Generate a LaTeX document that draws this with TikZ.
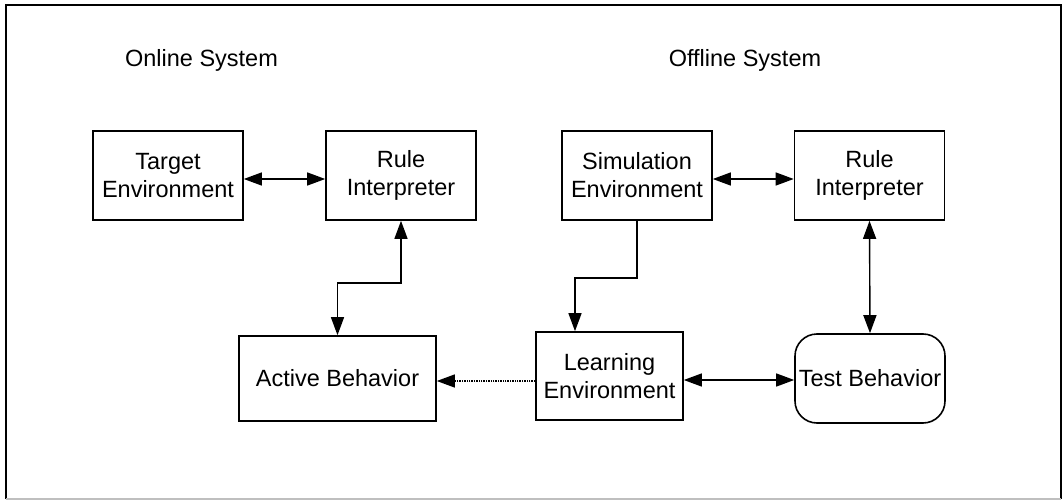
\documentclass[tikz,border=0pt]{standalone}
\usepackage{fontspec}
\setmainfont{Liberation Sans}
\usetikzlibrary{arrows.meta}
\begin{document}
\begin{tikzpicture}[x=1pt,y=-1pt,
  box/.style={draw, line width=1.6pt, minimum width=150pt, minimum height=89pt, inner sep=0pt, align=center, font=\fontsize{23.5}{28}\selectfont},
  title/.style={font=\fontsize{23.5}{28}\selectfont},
  tip/.style={},
  conn/.style={line width=1.4pt, {Triangle[length=18pt,width=13pt]}-{Triangle[length=18pt,width=13pt]}},
  oneway/.style={line width=1.4pt, -{Triangle[length=18pt,width=13pt]}},
  dots/.style={line width=1.4pt, densely dotted, -{Triangle[length=18pt,width=13pt]}}]
\useasboundingbox (0,0) rectangle (1063,500);
% frame
\draw[line width=2pt] (6,499) -- (6,5) -- (1061,5) -- (1061,499);
\draw[line width=2pt, black!25] (6,499) -- (1061,499);
% titles
\node[title] (online) at (201.5,60) {Online System};
\node[title] (offline) at (745,60) {Offline System};
% boxes
\node[box] (tenv) at (168,175.5) {Target\\Environment};
\node[box] (rule1) at (401,175.5) {Rule\\Interpreter};
\node[box] (sim) at (637,175.5) {Simulation\\Environment};
\node[box] (rule2) at (869.5,175.5) {Rule\\Interpreter};
\node[box, minimum width=197pt, minimum height=85pt] (active) at (337.5,378.5) {Active Behavior};
\node[box, minimum width=147pt, minimum height=88pt] (learn) at (609.5,376) {Learning\\Environment};
\node[box, rounded corners=22pt] (test) at (870,378.5) {Test Behavior};
% helper coordinates
\coordinate (ya) at (0,179);
\coordinate (yb) at (0,380);
\coordinate (yd) at (0,381);
\coordinate (j1) at (401,283);
\coordinate (j2) at (575,278);
% connectors
\draw[conn] (tenv.east |- ya) -- (rule1.west |- ya);
\draw[conn] (sim.east |- ya) -- (rule2.west |- ya);
\draw[conn] (active.north) |- (j1) -- (rule1.south);
\draw[oneway] (sim.south) |- (j2) -- (learn.north -| j2);
\draw[conn] (rule2.south) -- (test.north);
\draw[conn] (learn.east |- yb) -- (test.west |- yb);
\draw[dots] (learn.west |- yd) -- (active.east |- yd);
\end{tikzpicture}
\end{document}
